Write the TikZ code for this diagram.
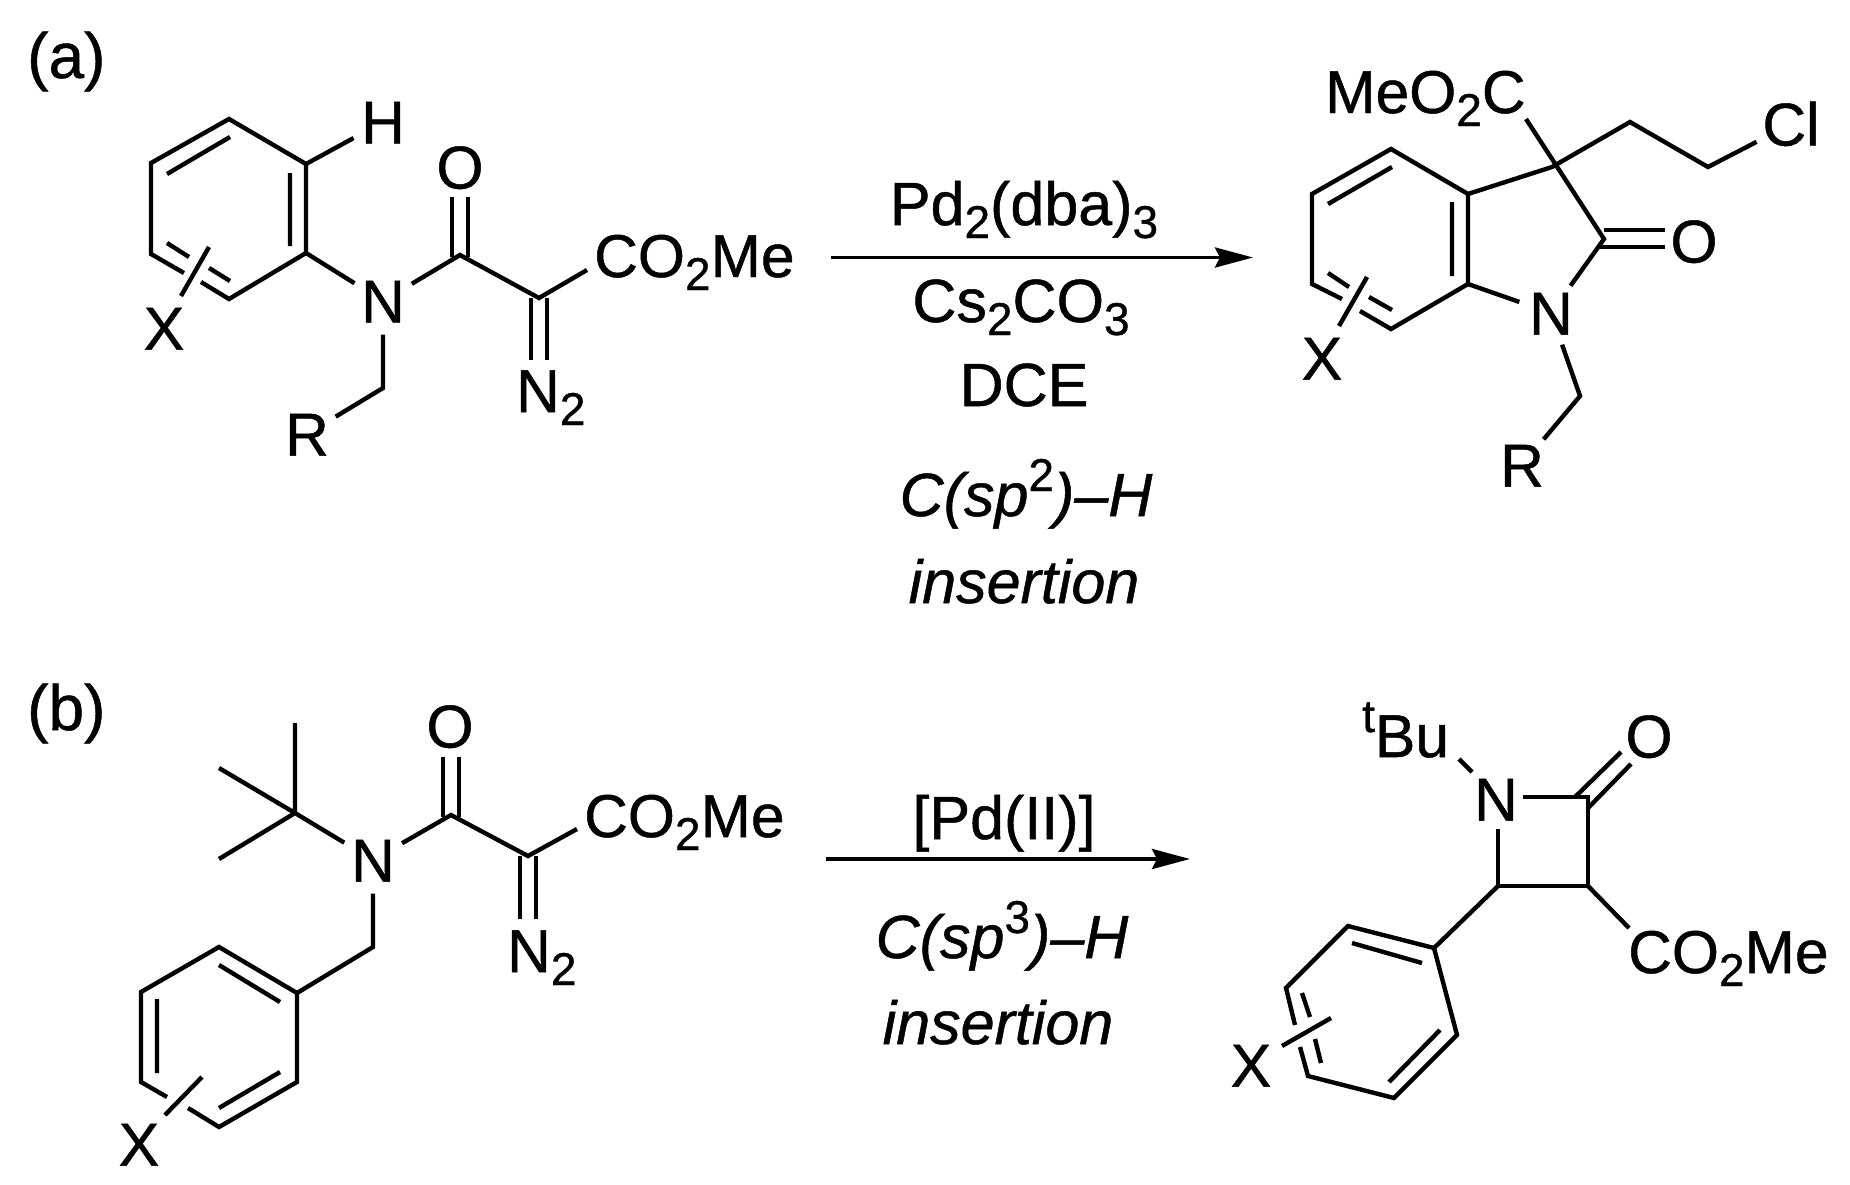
\documentclass[tikz,border=0pt]{standalone}
\usepackage{fontspec}
\setmainfont{Liberation Sans}[FakeBold=0.8]
\usetikzlibrary{arrows.meta}
\newcommand\chemfont{\fontsize{60.5}{72}\selectfont}
\newcommand\rgfont{\fontsize{61}{74}\selectfont}
\newcommand\lblfont{\fontsize{64}{74}\selectfont}
\newcommand\chsub[1]{\raisebox{-13pt}{\fontsize{46}{50}\selectfont #1}}
\newcommand\chsup[1]{\raisebox{25pt}{\fontsize{46}{50}\selectfont\upshape #1}}
\tikzset{
  bond/.style={line width=4.4pt,line join=miter,line cap=butt},
  atomlabel/.style={circle,inner sep=2pt,text height=43pt,text depth=0pt,font=\chemfont},
  grouplabel/.style={inner sep=0pt,anchor=base west,font=\chemfont},
  panellabel/.style={inner sep=0pt,anchor=base west,font=\lblfont},
  reagent/.style={inner sep=0pt,anchor=base,font=\rgfont},
  rxnarrow/.style={line width=3.8pt,-{Stealth[length=38pt,width=20pt,inset=5pt]}}
}
\begin{document}
\begin{tikzpicture}[x=1pt,y=-1pt]
\useasboundingbox (0,0) rectangle (1850,1184);
% ---------- (a) substrate
\node[panellabel] (lbla) at (27,78) {(a)};
\coordinate (a1) at (229,119); \coordinate (a2) at (306,164); \coordinate (a3) at (306,253);
\coordinate (a4) at (229,299); \coordinate (a5) at (151,254); \coordinate (a6) at (151,163);
\coordinate (a4g) at (201,282); \coordinate (a5g) at (184,273);
\coordinate (a1i) at (230,137); \coordinate (a6i) at (167,174);
\coordinate (a2i) at (290,173); \coordinate (a3i) at (290,246);
\coordinate (a5i) at (167,243); \coordinate (a5j) at (189,257);
\coordinate (a4i) at (209,268); \coordinate (a4j) at (230,281);
\coordinate (asa) at (209,247); \coordinate (asb) at (181,296);
\coordinate (ac1) at (460,255); \coordinate (ac2) at (539,298);
\coordinate (aoa) at (452,197); \coordinate (aob) at (452,257);
\coordinate (aoc) at (468,197); \coordinate (aod) at (468,257);
\coordinate (ana) at (531,298); \coordinate (anb) at (531,360);
\coordinate (anc) at (547,298); \coordinate (and) at (547,360);
\coordinate (ag) at (587,270); \coordinate (ach) at (383,388);
\node[atomlabel] (aH) at (383,122) {H};
\node[atomlabel] (aN) at (383,301) {N};
\node[atomlabel] (aR) at (307,434) {R};
\node[atomlabel] (aX) at (164,328) {X};
\node[atomlabel] (aO) at (460,167) {O};
\node[grouplabel] (aE) at (594,277) {CO\chsub{2}Me};
\node[grouplabel] (aNN) at (516,412) {N\chsub{2}};
\draw[bond] (a4g) -- (a4) -- (a3) -- (a2) -- (a1) -- (a6) -- (a5) -- (a5g);
\draw[bond] (a1i) -- (a6i) (a2i) -- (a3i) (a5i) -- (a5j) (a4i) -- (a4j) (asa) -- (asb);
\draw[bond] (a2) -- (aH) (a3) -- (aN) (aN) -- (ac1) -- (ac2) -- (ag);
\draw[bond] (aoa) -- (aob) (aoc) -- (aod) (ana) -- (anb) (anc) -- (and);
\draw[bond] (aN) -- (ach) -- (aR);
% ---------- (a) arrow and conditions
\coordinate (aas) at (831,257.5); \coordinate (aae) at (1253,257.5);
\draw[rxnarrow] (aas) -- (aae);
\node[reagent] (ar1) at (1024,225) {Pd\chsub{2}(dba)\chsub{3}};
\node[reagent] (ar2) at (1021,322) {Cs\chsub{2}CO\chsub{3}};
\node[reagent] (ar3) at (1024,406) {DCE};
\node[reagent] (ar4) at (1026,516) {\itshape C(sp\chsup{2})–H};
\node[reagent] (ar5) at (1024,603) {\itshape insertion};
% ---------- (a) product
\coordinate (p1) at (1391,149); \coordinate (p2) at (1312,194); \coordinate (p3) at (1312,284);
\coordinate (p4) at (1391,329); \coordinate (p5) at (1468,284); \coordinate (p6) at (1468,194);
\coordinate (p3g) at (1342,299); \coordinate (p4g) at (1360,311);
\coordinate (p1i) at (1392,167); \coordinate (p2i) at (1328,204);
\coordinate (p6i) at (1452,202); \coordinate (p5i) at (1452,276);
\coordinate (p3i) at (1328,273); \coordinate (p3j) at (1349,287);
\coordinate (p4i) at (1369,297); \coordinate (p4j) at (1392,310);
\coordinate (psa) at (1367,277); \coordinate (psb) at (1339,326);
\coordinate (pc3) at (1552,167); \coordinate (pc2) at (1604,239);
\coordinate (pch1) at (1630,122); \coordinate (pch2) at (1708,167);
\coordinate (pme) at (1526,119); \coordinate (pch) at (1580,396);
\coordinate (poa) at (1604,230); \coordinate (pob) at (1665,230);
\coordinate (poc) at (1600,247); \coordinate (pod) at (1665,247);
\node[grouplabel] (pE) at (1325,113) {MeO\chsub{2}C};
\node[atomlabel] (pCl) at (1791,124) {Cl};
\node[atomlabel] (pO) at (1694,241) {O};
\node[atomlabel] (pN) at (1551,313) {N};
\node[atomlabel] (pR) at (1522,465) {R};
\node[atomlabel] (pX) at (1322,358) {X};
\draw[bond] (p4g) -- (p4) -- (p5) -- (p6) -- (p1) -- (p2) -- (p3) -- (p3g);
\draw[bond] (p1i) -- (p2i) (p6i) -- (p5i) (p3i) -- (p3j) (p4i) -- (p4j) (psa) -- (psb);
\draw[bond] (p6) -- (pc3) -- (pch1) -- (pch2) -- (pCl);
\draw[bond] (pme) -- (pc2) -- (pN) (pN) -- (p5);
\draw[bond] (poa) -- (pob) (poc) -- (pod);
\draw[bond] (pN) -- (pch) -- (pR);
% ---------- (b) substrate
\node[panellabel] (lblb) at (27,730) {(b)};
\coordinate (tc) at (295,813); \coordinate (tm1) at (295,723);
\coordinate (tm2) at (219,768); \coordinate (tm3) at (219,859);
\coordinate (bc1) at (451,815); \coordinate (bc2) at (528,856);
\coordinate (boa) at (443,757); \coordinate (bob) at (443,817);
\coordinate (boc) at (459,757); \coordinate (bod) at (459,817);
\coordinate (bna) at (520,856); \coordinate (bnb) at (520,919);
\coordinate (bnc) at (536,856); \coordinate (bnd) at (536,919);
\coordinate (bg) at (577,829); \coordinate (bch) at (373,947);
\coordinate (b1) at (297,993); \coordinate (b2) at (219,947); \coordinate (b3) at (141,992);
\coordinate (b4) at (141,1082); \coordinate (b5) at (219,1127); \coordinate (b6) at (297,1082);
\coordinate (b4g) at (167,1097); \coordinate (b5g) at (188,1108);
\coordinate (b2i) at (219,965); \coordinate (b1i) at (280,1002);
\coordinate (b3i) at (157,999); \coordinate (b4i) at (157,1073);
\coordinate (b5i) at (219,1108); \coordinate (b6i) at (280,1072);
\coordinate (bsa) at (202,1077); \coordinate (bsb) at (165,1115);
\node[atomlabel] (bN) at (373,860) {N};
\node[atomlabel] (bO) at (450,726) {O};
\node[atomlabel] (bX) at (139,1144) {X};
\node[grouplabel] (bE) at (584,837) {CO\chsub{2}Me};
\node[grouplabel] (bNN) at (507,972) {N\chsub{2}};
\draw[bond] (tm1) -- (tc) (tm2) -- (tc) (tm3) -- (tc) (tc) -- (bN);
\draw[bond] (bN) -- (bc1) -- (bc2) -- (bg);
\draw[bond] (boa) -- (bob) (boc) -- (bod) (bna) -- (bnb) (bnc) -- (bnd);
\draw[bond] (bN) -- (bch) -- (b1);
\draw[bond] (b5g) -- (b5) -- (b6) -- (b1) -- (b2) -- (b3) -- (b4) -- (b4g);
\draw[bond] (b2i) -- (b1i) (b3i) -- (b4i) (b5i) -- (b6i) (bsa) -- (bsb);
% ---------- (b) arrow and conditions
\coordinate (bas) at (826,859); \coordinate (bae) at (1190,859);
\draw[rxnarrow] (bas) -- (bae);
\node[reagent] (br1) at (1004,839) {[Pd(II)]};
\node[reagent] (br2) at (1002,958) {\itshape C(sp\chsup{3})–H};
\node[reagent] (br3) at (998,1044) {\itshape insertion};
% ---------- (b) product
\coordinate (qca) at (1588,797); \coordinate (qcb) at (1588,886); \coordinate (qcc) at (1498,886);
\coordinate (qna) at (1498,829); \coordinate (qnb) at (1523,797);
\coordinate (qbu) at (1459,759); \coordinate (qbv) at (1472,772);
\coordinate (qoa) at (1575,797); \coordinate (qob) at (1621,752);
\coordinate (qoc) at (1588,808); \coordinate (qod) at (1631,764);
\coordinate (qg) at (1629,928);
\coordinate (q1) at (1434,948); \coordinate (q2) at (1348,926); \coordinate (q3) at (1286,988);
\coordinate (q4) at (1308,1076); \coordinate (q5) at (1394,1098); \coordinate (q6) at (1457,1035);
\coordinate (q3g) at (1295,1025); \coordinate (q4g) at (1300,1047);
\coordinate (q2i) at (1352,943); \coordinate (q1i) at (1422,963);
\coordinate (q3i) at (1302,993); \coordinate (q3j) at (1310,1017);
\coordinate (q4i) at (1315,1039); \coordinate (q4j) at (1321,1063);
\coordinate (q5i) at (1389,1082); \coordinate (q6i) at (1440,1030);
\coordinate (qsa) at (1331,1018); \coordinate (qsb) at (1282,1046);
\node[atomlabel] (qN) at (1496,799) {N};
\node[atomlabel] (qO) at (1649,736) {O};
\node[atomlabel] (qX) at (1251,1065) {X};
\node[grouplabel] (qBu) at (1362,757) {\chsup{t}Bu};
\node[grouplabel] (qE) at (1628,973) {CO\chsub{2}Me};
\draw[bond] (qbu) -- (qbv);
\draw[bond] (qnb) -- (qca) -- (qcb) -- (qcc) -- (qna);
\draw[bond] (qoa) -- (qob) (qoc) -- (qod);
\draw[bond] (qcb) -- (qg) (qcc) -- (q1);
\draw[bond] (q4g) -- (q4) -- (q5) -- (q6) -- (q1) -- (q2) -- (q3) -- (q3g);
\draw[bond] (q2i) -- (q1i) (q3i) -- (q3j) (q4i) -- (q4j) (q5i) -- (q6i) (qsa) -- (qsb);
\end{tikzpicture}
\end{document}
